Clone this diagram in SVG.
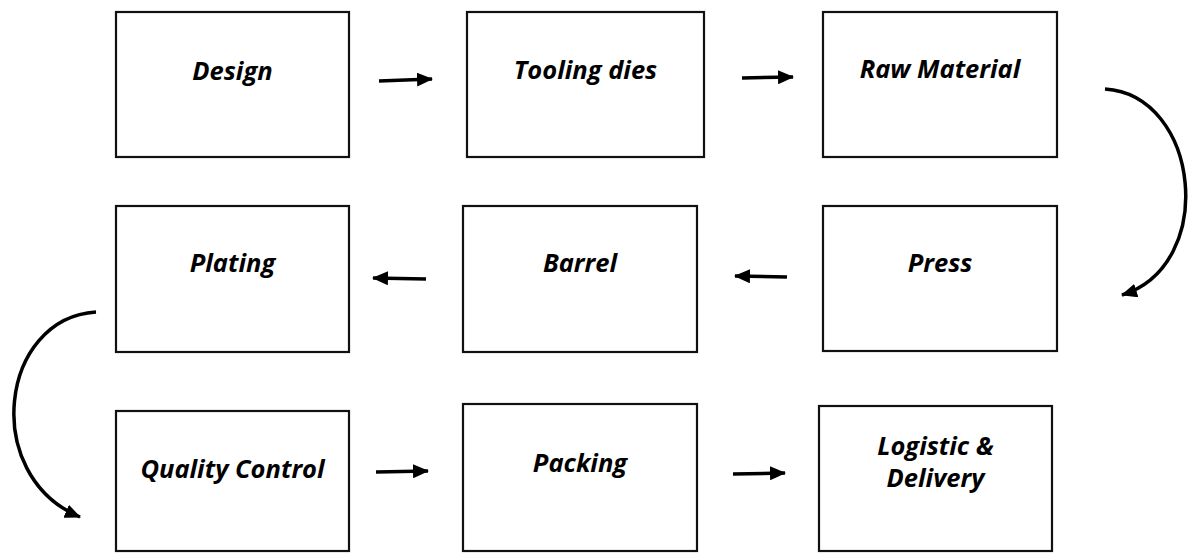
<svg xmlns="http://www.w3.org/2000/svg" width="1194" height="553" viewBox="0 0 1194 553">
<style>
.box{fill:#fff;stroke:#111;stroke-width:2.2}
.lbl{font-family:"Open Sans","Liberation Sans",sans-serif;font-weight:bold;font-style:italic;font-size:25.5px;fill:#000;text-anchor:middle}
.con{fill:none;stroke:#000;stroke-width:3.5;marker-end:url(#ah)}
</style>
<defs>
<marker id="ah" viewBox="0 0 16 14" refX="15" refY="7" markerWidth="16" markerHeight="14" markerUnits="userSpaceOnUse" orient="auto">
<path d="M0,0 L16,7 L0,14 Z" fill="#000"/>
</marker>
</defs>
<rect width="1194" height="553" fill="#fff"/>
<g id="n-design"><rect class="box" x="116" y="12" width="233" height="145"/><text class="lbl" x="232.5" y="80">Design</text></g>
<g id="n-tooling"><rect class="box" x="467" y="12" width="237" height="145"/><text class="lbl" x="585.5" y="79">Tooling dies</text></g>
<g id="n-raw"><rect class="box" x="823" y="12" width="234" height="145"/><text class="lbl" x="940" y="78">Raw Material</text></g>
<g id="n-press"><rect class="box" x="823" y="206" width="234" height="145"/><text class="lbl" x="940" y="272">Press</text></g>
<g id="n-barrel"><rect class="box" x="463" y="206" width="234" height="146"/><text class="lbl" x="580" y="272">Barrel</text></g>
<g id="n-plating"><rect class="box" x="116" y="206" width="233" height="146"/><text class="lbl" x="232.5" y="272">Plating</text></g>
<g id="n-qc"><rect class="box" x="116" y="411" width="233" height="140"/><text class="lbl" x="232.5" y="478">Quality Control</text></g>
<g id="n-packing"><rect class="box" x="463" y="404" width="234" height="147"/><text class="lbl" x="580" y="472">Packing</text></g>
<g id="n-logistic"><rect class="box" x="819" y="406" width="233" height="145"/><text class="lbl" x="935.5" y="455">Logistic &amp;</text><text class="lbl" x="935.5" y="487">Delivery</text></g>
<g id="connectors">
<path class="con" d="M379,81 L432,79"/>
<path class="con" d="M742,78 L793,77"/>
<path class="con" d="M1105,89 C1200,95 1218,265 1122,295"/>
<path class="con" d="M787,277 L735,276"/>
<path class="con" d="M426,279 L373,278"/>
<path class="con" d="M96,312 C0,318 -20,475 80,517"/>
<path class="con" d="M376,472 L428,471"/>
<path class="con" d="M733,474 L785,473"/>
</g>
</svg>
